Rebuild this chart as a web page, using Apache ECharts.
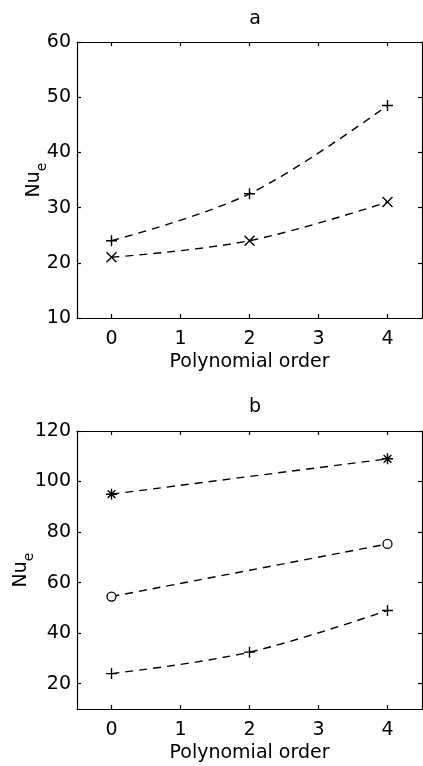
<!DOCTYPE html>
<html>
<head>
<meta charset="utf-8">
<script src="https://cdn.jsdelivr.net/npm/echarts@6/dist/echarts.min.js"></script>
<style>
  html, body { margin: 0; padding: 0; background: #fff; }
  #chart { width: 423px; height: 766px; }
</style>
</head>
<body>
<div id="chart"></div>
<script>
// polynomial order on the x axis
const xTicks = [0, 1, 2, 3, 4]
// panel a
const aOrders = [0, 2, 4]
const aPlus = [24, 32.5, 48.5]
const aCross = [21, 24, 31]
const aYTicks = [10, 20, 30, 40, 50, 60]
// panel b
const bOrders = [0, 2, 4]
const bPlus = [24, 32.5, 49]
const bEndOrders = [0, 4]
const bCircle = [54.5, 75.3]
const bStar = [95, 109]
const bYTicks = [20, 40, 60, 80, 100, 120]

const FONT = 'DejaVu Sans'

const plusPath = 'path://M5 0 L5 10 M0 5 L10 5'
const crossPath = 'path://M0 0 L10 10 M10 0 L0 10'
const starPath = 'path://M5 0 L5 10 M0 5 L10 5 M1.5 1.5 L8.5 8.5 M8.5 1.5 L1.5 8.5'

function pairs (xs, ys) {
  return xs.map((x, i) => [x, ys[i]])
}

// axis helpers, matlab-like box with inward ticks
function xAx (grid, main) {
  return {
    type: 'value', gridIndex: grid, min: -0.5, max: 4.5,
    position: main ? 'bottom' : 'top',
    axisLine: { onZero: false, lineStyle: { color: '#000', width: 1.2 } },
    axisTick: { show: true, inside: true, length: 4, customValues: xTicks, lineStyle: { color: '#000', width: 1.2 } },
    axisLabel: { show: main, customValues: xTicks, margin: 12, color: '#000', fontFamily: FONT, fontSize: 19 },
    splitLine: { show: false },
    name: main ? 'Polynomial order' : '',
    nameLocation: 'middle', nameGap: 35, nameMoveOverlap: false,
    nameTextStyle: { color: '#000', fontFamily: FONT, fontSize: 19 }
  }
}

function yAx (grid, main, min, max, ticks, gap) {
  return {
    type: 'value', gridIndex: grid, min: min, max: max,
    position: main ? 'left' : 'right',
    axisLine: { onZero: false, lineStyle: { color: '#000', width: 1.2 } },
    axisTick: { show: true, inside: true, length: 4, customValues: ticks, lineStyle: { color: '#000', width: 1.2 } },
    axisLabel: { show: main, customValues: ticks, margin: 6, color: '#000', fontFamily: FONT, fontSize: 19 },
    splitLine: { show: false },
    name: main ? '{n|Nu}{s|e}' : '',
    nameLocation: 'middle', nameGap: gap, nameRotate: 90, nameMoveOverlap: false,
    nameTextStyle: {
      color: '#000', fontFamily: FONT, fontSize: 19,
      rich: {
        n: { fontFamily: FONT, fontSize: 19, color: '#000', padding: [0, 0, 5, 0] },
        s: { fontFamily: FONT, fontSize: 14, color: '#000', verticalAlign: 'bottom' }
      }
    }
  }
}

function line (xi, yi, data, symbol, size) {
  const isPath = symbol.indexOf('path://') === 0
  return {
    type: 'line', xAxisIndex: xi, yAxisIndex: yi, data: data,
    smooth: 0.35,
    symbol: symbol, symbolSize: size,
    lineStyle: { color: '#000', width: 1.4, type: [8, 6] },
    itemStyle: isPath
      ? { color: 'rgba(0,0,0,0)', borderColor: '#000', borderWidth: 1.4 }
      : { color: '#fff', borderColor: '#000', borderWidth: 1.3 },
    animation: false
  }
}

const myChart = echarts.init(document.getElementById('chart'))
myChart.setOption({
  backgroundColor: '#fff',
  animation: false,
  title: [
    { text: 'a', left: 250, top: 5, textAlign: 'center', textStyle: { fontFamily: FONT, fontSize: 19, fontWeight: 'normal', color: '#000' } },
    { text: 'b', left: 250, top: 393, textAlign: 'center', textStyle: { fontFamily: FONT, fontSize: 19, fontWeight: 'normal', color: '#000' } }
  ],
  grid: [
    { left: 77, right: 1, top: 42, height: 276, outerBoundsMode: 'none' },
    { left: 77, right: 1, top: 431, height: 278, outerBoundsMode: 'none' }
  ],
  xAxis: [xAx(0, true), xAx(0, false), xAx(1, true), xAx(1, false)],
  yAxis: [
    yAx(0, true, 10, 60, aYTicks, 28), yAx(0, false, 10, 60, aYTicks, 0),
    yAx(1, true, 10, 120, bYTicks, 41), yAx(1, false, 10, 120, bYTicks, 0)
  ],
  series: [
    line(0, 0, pairs(aOrders, aPlus), plusPath, 11),
    line(0, 0, pairs(aOrders, aCross), crossPath, 10),
    line(2, 2, pairs(bOrders, bPlus), plusPath, 11),
    line(2, 2, pairs(bEndOrders, bCircle), 'circle', 9),
    line(2, 2, pairs(bEndOrders, bStar), starPath, 11)
  ]
})
</script>
</body>
</html>
